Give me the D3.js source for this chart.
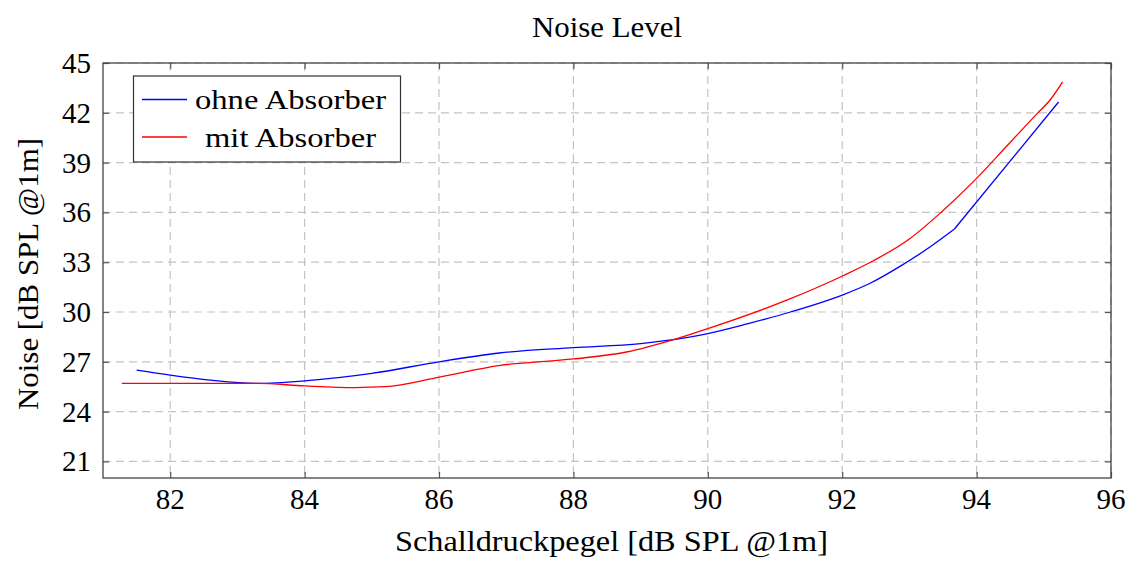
<!DOCTYPE html>
<html><head><meta charset="utf-8">
<script src="https://cdn.jsdelivr.net/npm/d3@7"></script>
<style>
body{margin:0;background:#fff;}
text{font-family:"Liberation Serif","DejaVu Serif",serif;fill:#000;}
</style></head>
<body><svg id="c" width="1132" height="563"></svg>
<script>
const title = "Noise Level";
const xLabel = "Schalldruckpegel [dB SPL @1m]";
const yLabel = "Noise [dB SPL @1m]";
const xTicks = [82,84,86,88,90,92,94,96];
const yTicks = [21,24,27,30,33,36,39,42,45];
const seriesNames = ["ohne Absorber","mit Absorber"];
const seriesColors = ["#0000ff","#ff0000"];
const ohneX = [81.5,82.0,82.6,83.3,84.0,85.0,86.0,86.9,88.0,89.0,89.54,90.0,90.6,91.23,92.02,92.4,92.86,93.3,93.67,95.22];
const ohneY = [26.5,26.2,25.9,25.7,25.85,26.3,27.0,27.53,27.85,28.1,28.36,28.7,29.3,30.0,31.05,31.7,32.75,33.9,35.0,42.65];
const mitX = [81.28,82.0,83.3,84.0,84.75,85.2,86.01,86.91,88.0,88.79,89.54,90.0,91.23,92.02,92.47,93.0,93.47,94.0,94.45,94.9,95.1,95.28];
const mitY = [25.7,25.7,25.7,25.55,25.45,25.5,26.08,26.78,27.17,27.59,28.4,29.0,30.8,32.2,33.1,34.4,36.0,38.05,40.0,41.95,42.8,43.86];

const svg = d3.select("#c");
const L=103, R=1111, T=63, B=478;
const x = d3.scaleLinear().domain([81,96]).range([L,R]);
const y = d3.scaleLinear().domain([20,45]).range([B,T]);

// grid
const g = svg.append("g");
g.selectAll(".gx").data(xTicks).join("line")
 .attr("x1",d=>x(d)).attr("x2",d=>x(d)).attr("y1",T).attr("y2",B)
 .attr("stroke","#c4c4c4").attr("stroke-width",1.2).attr("stroke-dasharray","8,5");
g.selectAll(".gy").data(yTicks).join("line")
 .attr("x1",L).attr("x2",R).attr("y1",d=>y(d)).attr("y2",d=>y(d))
 .attr("stroke","#c4c4c4").attr("stroke-width",1.2).attr("stroke-dasharray","8,5");

// axes with inside ticks
const fmt = d3.format("d");
function styleAxis(sel){sel.select(".domain").remove();sel.selectAll(".tick line").attr("stroke","#555").attr("stroke-width",1.2);sel.selectAll("text").remove();}
svg.append("g").attr("transform",`translate(0,${B})`).call(d3.axisBottom(x).tickValues(xTicks).tickSize(-6)).call(styleAxis);
svg.append("g").attr("transform",`translate(0,${T})`).call(d3.axisTop(x).tickValues(xTicks).tickSize(-6)).call(styleAxis);
svg.append("g").attr("transform",`translate(${L},0)`).call(d3.axisLeft(y).tickValues(yTicks).tickSize(-6)).call(styleAxis);
svg.append("g").attr("transform",`translate(${R},0)`).call(d3.axisRight(y).tickValues(yTicks).tickSize(-6)).call(styleAxis);

// tick labels
svg.append("g").selectAll("text").data(xTicks).join("text")
 .attr("x",d=>x(d)).attr("y",509).attr("text-anchor","middle").attr("font-size",29).text(fmt);
svg.append("g").selectAll("text").data(yTicks).join("text")
 .attr("x",91).attr("y",d=>y(d)+10).attr("text-anchor","end").attr("font-size",29).text(fmt);

// lines
const smooth = d3.line().x(d=>x(d[0])).y(d=>y(d[1])).curve(d3.curveMonotoneX);
const straight = d3.line().x(d=>x(d[0])).y(d=>y(d[1]));
const ohne = d3.zip(ohneX,ohneY), mit = d3.zip(mitX,mitY);
const kink = ohne.length-2; // blue series has a corner before its last straight segment
const lines = svg.append("g").attr("fill","none").attr("stroke-width",1.3);
lines.append("path").attr("d",smooth(ohne.slice(0,kink+1))).attr("stroke",seriesColors[0]);
lines.append("path").attr("d",straight(ohne.slice(kink))).attr("stroke",seriesColors[0]);
lines.append("path").attr("d",smooth(mit)).attr("stroke",seriesColors[1]);

// frame
svg.append("rect").attr("x",L).attr("y",T).attr("width",R-L).attr("height",B-T)
 .attr("fill","none").attr("stroke","#444").attr("stroke-width",1.3);

// title & labels
svg.append("text").attr("x",(L+R)/2).attr("y",37).attr("text-anchor","middle").attr("font-size",30)
 .attr("textLength",150).attr("lengthAdjust","spacingAndGlyphs").text(title);
svg.append("text").attr("x",611.5).attr("y",551).attr("text-anchor","middle").attr("font-size",30)
 .attr("textLength",433).attr("lengthAdjust","spacingAndGlyphs").text(xLabel);
svg.append("text").attr("transform",`translate(38,274) rotate(-90)`).attr("text-anchor","middle").attr("font-size",30)
 .attr("textLength",272).attr("lengthAdjust","spacingAndGlyphs").text(yLabel);

// legend
const lg = svg.append("g");
lg.append("rect").attr("x",133.5).attr("y",76).attr("width",267).attr("height",86)
 .attr("fill","#fff").attr("stroke","#333").attr("stroke-width",1.2);
const ly = [99.5,137];
const lw = [191,171];
seriesNames.forEach((n,i)=>{
  lg.append("line").attr("x1",142).attr("x2",187).attr("y1",ly[i]).attr("y2",ly[i])
    .attr("stroke",seriesColors[i]).attr("stroke-width",1.3);
  lg.append("text").attr("x",290.5).attr("y",ly[i]+9.5).attr("text-anchor","middle").attr("font-size",27)
    .attr("textLength",lw[i]).attr("lengthAdjust","spacingAndGlyphs").text(n);
});
</script></body></html>
